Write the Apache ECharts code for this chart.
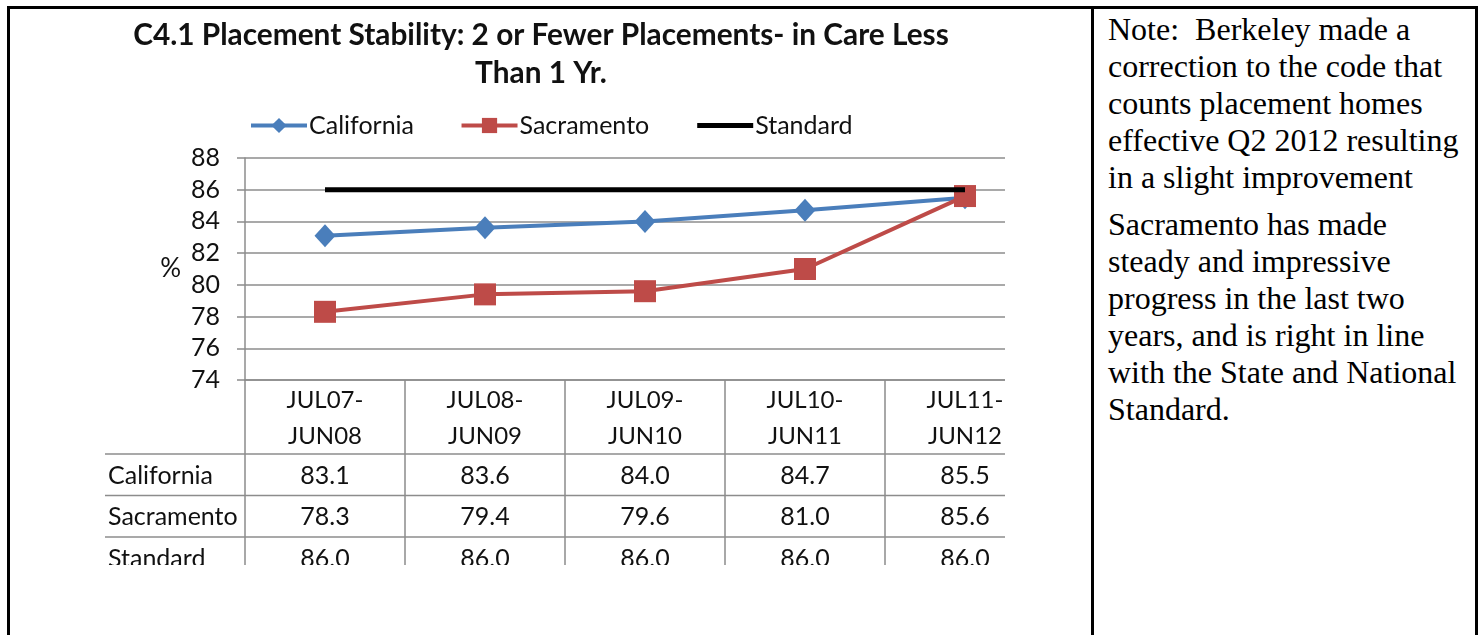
<!DOCTYPE html>
<html>
<head>
<meta charset="utf-8">
<script src="https://cdn.jsdelivr.net/npm/echarts@6/dist/echarts.min.js"></script>
<style>
  html, body { margin: 0; padding: 0; background: #fff; width: 1481px; height: 635px; overflow: hidden; }
  #frame { position: absolute; left: 7px; top: 6px; width: 1471px; height: 700px; border: 3px solid #000; box-sizing: border-box; }
  #divider { position: absolute; left: 1091px; top: 6px; width: 3px; height: 640px; background: #000; }
  #note { position: absolute; left: 1108px; top: 11px; width: 365px; font-family: 'Liberation Serif', 'Times New Roman', serif; font-size: 32px; line-height: 37px; color: #000; white-space: nowrap; }
  #note p { margin: 0 0 10px 0; }
  #clip { position: absolute; left: 0; top: 0; width: 1005px; height: 565px; overflow: hidden; }
  #chart { position: absolute; left: 0; top: 0; width: 1082px; height: 600px; }
</style>
</head>
<body>
<div id="frame"></div>
<div id="divider"></div>
<div id="clip"><div id="chart"></div></div>
<div id="note">
  <p>Note:&nbsp; Berkeley made a<br>correction to the code that<br>counts placement homes<br>effective Q2 2012 resulting<br>in a slight improvement</p>
  <p>Sacramento has made<br>steady and impressive<br>progress in the last two<br>years, and is right in line<br>with the State and National<br>Standard.</p>
</div>
<script>
// ---- data ----
const titleText = 'C4.1 Placement Stability: 2 or Fewer Placements- in Care Less\nThan 1 Yr.';
const categories = ['JUL07-\nJUN08', 'JUL08-\nJUN09', 'JUL09-\nJUN10', 'JUL10-\nJUN11', 'JUL11-\nJUN12'];
const california = [83.1, 83.6, 84.0, 84.7, 85.5];
const sacramento = [78.3, 79.4, 79.6, 81.0, 85.6];
const standard = [86.0, 86.0, 86.0, 86.0, 86.0];
const seriesNames = ['California', 'Sacramento', 'Standard'];
const yMin = 74, yMax = 88, yStep = 2;
const yAxisName = '%';

// ---- style ----
const FONT = 'Lato';
const TXT = '#111';
const GRID = '#8c8c8c';
const headerH = 74, rowH = 41.5;

function tableSeries(name, values, row) {
  return {
    type: 'custom',
    name: name + ' table',
    silent: true,
    z: 1,
    clip: false,
    data: values.map((v, i) => [i, v]),
    encode: { x: 0, y: 1 },
    renderItem: function (params, api) {
      const i = api.value(0);
      const p = api.coord([i, yMin]);
      const w = api.size([1, 0])[0];
      const top = p[1] + headerH + row * rowH;
      const children = [
        { type: 'line', shape: { x1: p[0] - w / 2, y1: top, x2: p[0] + w / 2, y2: top },
          style: { stroke: GRID, lineWidth: 1.5 } },
        { type: 'text', style: { text: api.value(1).toFixed(1), x: p[0], y: top + rowH / 2 + 1,
          align: 'center', verticalAlign: 'middle', fontSize: 25, fontFamily: FONT, fill: TXT } }
      ];
      if (i === 0) {
        children.push({ type: 'line', shape: { x1: 105, y1: top, x2: p[0] - w / 2, y2: top },
          style: { stroke: GRID, lineWidth: 1.5 } });
        children.push({ type: 'text', style: { text: name, x: 108, y: top + rowH / 2 + 1,
          align: 'left', verticalAlign: 'middle', fontSize: 25, fontFamily: FONT, fill: TXT } });
      }
      return { type: 'group', children: children };
    }
  };
}

const chart = echarts.init(document.getElementById('chart'), null, { renderer: 'canvas' });
chart.setOption({
  animation: false,
  backgroundColor: 'transparent',
  title: {
    text: titleText,
    left: 'center',
    top: 11,
    textStyle: { fontFamily: FONT, fontWeight: 'bold', fontSize: 29.8, lineHeight: 38, color: TXT }
  },
  legend: {
    data: [
      { name: seriesNames[0] },
      { name: seriesNames[1] },
      { name: seriesNames[2], itemStyle: { opacity: 0 }, lineStyle: { width: 5 } }
    ],
    left: 249,
    top: 113,
    padding: 0,
    itemWidth: 56,
    itemHeight: 19,
    itemGap: 45.5,
    lineStyle: { width: 4 },
    textStyle: { fontFamily: FONT, fontSize: 25, color: TXT, padding: [0, 0, 0, -3] }
  },
  grid: { left: 245, top: 158, height: 222, right: 37, containLabel: false },
  xAxis: {
    type: 'category',
    data: categories,
    boundaryGap: true,
    axisLine: { show: true, lineStyle: { color: GRID, width: 1.5 } },
    axisTick: { show: true, inside: false, length: 190, interval: 0, lineStyle: { color: GRID, width: 1.5 } },
    axisLabel: { interval: 0, margin: 2, fontFamily: FONT, fontSize: 24, lineHeight: 36, color: TXT },
    splitLine: { show: false }
  },
  yAxis: {
    type: 'value',
    min: yMin, max: yMax, interval: yStep,
    name: yAxisName,
    nameLocation: 'middle',
    nameRotate: 0,
    nameGap: 64,
    nameTextStyle: { fontFamily: FONT, fontSize: 26, color: TXT },
    axisLine: { show: true, lineStyle: { color: GRID, width: 1.5 } },
    axisTick: { show: true, length: 8, lineStyle: { color: GRID, width: 1.5 } },
    axisLabel: { margin: 25, fontFamily: FONT, fontSize: 25, color: TXT },
    splitLine: { show: true, lineStyle: { color: GRID, width: 1.5 } }
  },
  series: [
    { name: seriesNames[0], type: 'line', data: california, color: '#4a7ebb',
      lineStyle: { width: 4 }, symbol: 'diamond', symbolSize: [21, 23], z: 3 },
    { name: seriesNames[1], type: 'line', data: sacramento, color: '#be4b48',
      lineStyle: { width: 4 }, symbol: 'rect', symbolSize: 22, z: 4 },
    { name: seriesNames[2], type: 'line', data: standard, color: '#000',
      lineStyle: { width: 5 }, symbol: 'none', z: 5 },
    tableSeries(seriesNames[0], california, 0),
    tableSeries(seriesNames[1], sacramento, 1),
    tableSeries(seriesNames[2], standard, 2)
  ]
});
</script>
</body>
</html>
